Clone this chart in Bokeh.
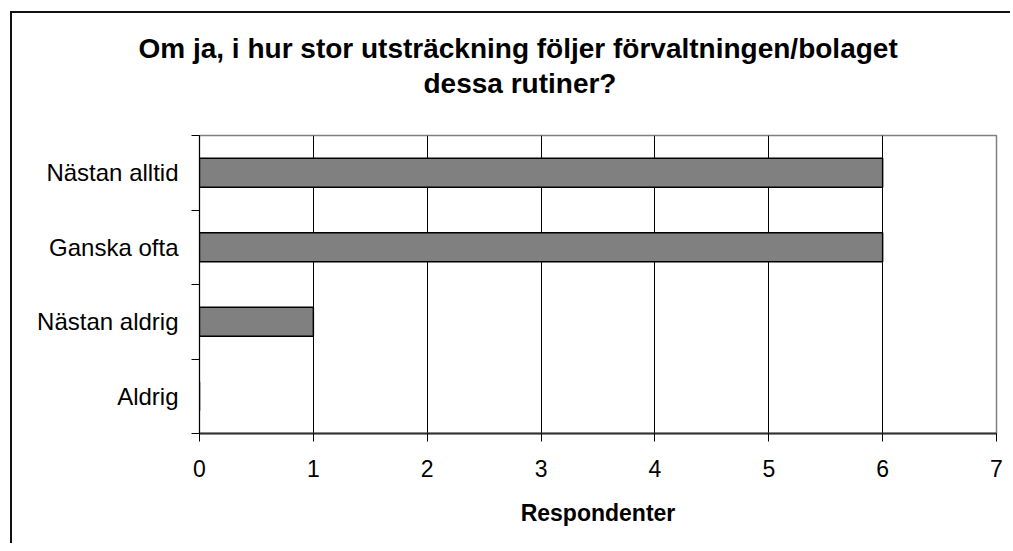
from bokeh.plotting import figure
from bokeh.models import Range1d, FixedTicker, Title
from bokeh.embed import file_html
from bokeh.resources import INLINE

categories = ["Nästan alltid", "Ganska ofta", "Nästan aldrig", "Aldrig"]
values = [6, 6, 1, 0]
x_ticks = [0, 1, 2, 3, 4, 5, 6, 7]
title_line1 = "Om ja, i hur stor utsträckning följer förvaltningen/bolaget"
title_line2 = "dessa rutiner?"
x_label = "Respondenter"

n = len(categories)
centers = [n - i - 0.5 for i in range(n)]
FONT = "Liberation Sans"

p = figure(width=1010, height=543, output_backend="svg", toolbar_location=None,
           x_range=Range1d(0, 7), y_range=Range1d(0, n),
           min_border_left=199, min_border_right=14, min_border_top=135,
           min_border_bottom=110)
# outer chart border (top and left edges), painted behind a transparent canvas
p.styles = {"background": "linear-gradient(#111111, #111111) 10px 11px / 2px 100% no-repeat, "
                          "linear-gradient(#111111, #111111) 10px 11px / 100% 2px no-repeat, "
                          "white"}

p.background_fill_color = None
p.border_fill_color = None
p.outline_line_color = "#808080"
p.outline_line_width = 1.5

p.hbar(y=centers, right=values, left=0, height=0.39,
       fill_color="#808080", line_color="black", line_width=1.5)

# x axis
p.xaxis.ticker = FixedTicker(ticks=x_ticks)
p.xaxis.major_tick_out = 8
p.xaxis.major_tick_in = 0
p.xaxis.minor_tick_out = 0
p.xaxis.minor_tick_in = 0
p.xaxis.axis_line_color = "#333333"
p.xaxis.axis_line_width = 2
p.xaxis.major_tick_line_color = "black"
p.xaxis.major_label_text_font = FONT
p.xaxis.major_label_text_font_size = "23px"
p.xaxis.major_label_text_color = "black"
p.xaxis.major_label_standoff = 18
p.xaxis.axis_label = x_label
p.xaxis.axis_label_text_font = FONT
p.xaxis.axis_label_text_font_style = "bold"
p.xaxis.axis_label_text_font_size = "23px"
p.xaxis.axis_label_text_color = "black"
p.xaxis.axis_label_standoff = 20

# y axis: labels at band centres, ticks at band boundaries
p.yaxis.ticker = FixedTicker(ticks=centers, minor_ticks=list(range(n + 1)))
p.yaxis.major_label_overrides = {c: cat for c, cat in zip(centers, categories)}
p.yaxis.major_tick_out = 0
p.yaxis.major_tick_in = 0
p.yaxis.minor_tick_out = 8
p.yaxis.minor_tick_in = 0
p.yaxis.minor_tick_line_color = "black"
p.yaxis.axis_line_color = "black"
p.yaxis.major_label_text_font = FONT
p.yaxis.major_label_text_font_size = "24px"
p.yaxis.major_label_text_color = "black"
p.yaxis.major_label_standoff = 13

p.ygrid.visible = False
p.xgrid.ticker = FixedTicker(ticks=x_ticks[1:-1])
p.xgrid.grid_line_color = "black"
p.xgrid.grid_line_width = 1

# titles: p.title is the outer line, the added one sits next to the frame
p.title.text = title_line1
p.title.align = "left"
p.title.offset = -61
p.title.standoff = -69
p.title.text_font = FONT
p.title.text_font_style = "bold"
p.title.text_font_size = "28px"
p.title.text_color = "black"
t2 = Title(text=title_line2, align="left", offset=224, standoff=73,
           text_font=FONT, text_font_style="bold", text_font_size="28px",
           text_color="black")
p.add_layout(t2, "above")

open("out.html", "w").write(file_html(p, INLINE))
